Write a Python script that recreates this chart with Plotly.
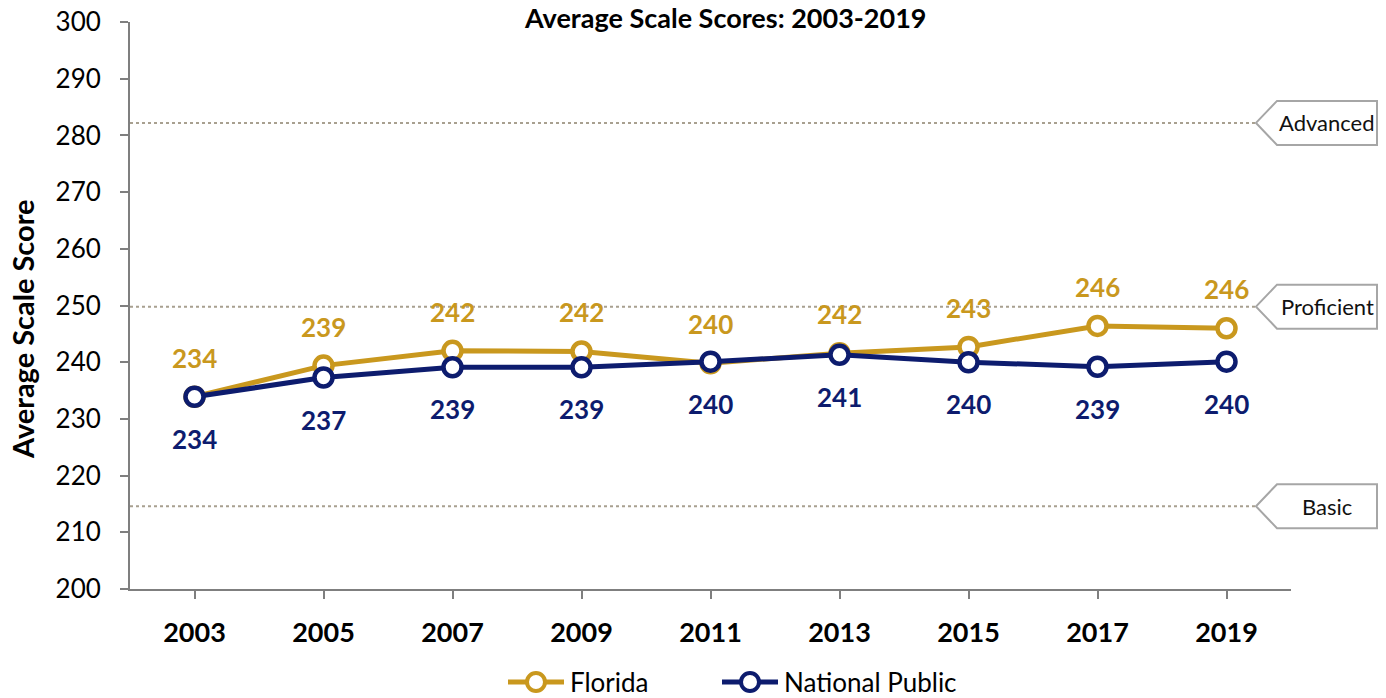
import plotly.graph_objects as go

years = ["2003", "2005", "2007", "2009", "2011", "2013", "2015", "2017", "2019"]
florida = [233.9, 239.4, 242.0, 241.9, 239.8, 241.6, 242.7, 246.4, 246.0]
florida_labels = ["234", "239", "242", "242", "240", "242", "243", "246", "246"]
national = [233.9, 237.3, 239.1, 239.1, 240.1, 241.3, 240.0, 239.2, 240.1]
national_labels = ["234", "237", "239", "239", "240", "241", "240", "239", "240"]
series_names = ["Florida", "National Public"]
levels = ["Advanced", "Proficient", "Basic"]
level_values = [282.2, 249.8, 214.6]
y_ticks = [200, 210, 220, 230, 240, 250, 260, 270, 280, 290, 300]

GOLD = "#C9981E"
NAVY = "#0D1C6E"
FONT = "Lato"

# plot area in pixels
FW, FH = 1386, 698
L, R, T, B = 130, 95, 22, 109
W = FW - L - R
H = FH - T - B


def px_x(p):
    return (p - L) / W


def px_y(p):
    return (FH - B - p) / H


fig = go.Figure()
fig.add_trace(go.Scatter(
    x=years, y=florida, name=series_names[0], mode="lines+markers",
    line=dict(color=GOLD, width=5),
    marker=dict(symbol="circle", size=18, color="white", line=dict(color=GOLD, width=4.5)),
))
fig.add_trace(go.Scatter(
    x=years, y=national, name=series_names[1], mode="lines+markers",
    line=dict(color=NAVY, width=5),
    marker=dict(symbol="circle", size=18, color="white", line=dict(color=NAVY, width=4.5)),
))

annotations = []
for i, (v, t) in enumerate(zip(florida, florida_labels)):
    annotations.append(dict(x=i, y=v, xref="x", yref="y", text=t, showarrow=False, yshift=39,
                            font=dict(family=FONT, size=26, color=GOLD, weight="bold")))
for i, (v, t) in enumerate(zip(national, national_labels)):
    annotations.append(dict(x=i, y=v, xref="x", yref="y", text=t, showarrow=False, yshift=-42,
                            font=dict(family=FONT, size=26, color=NAVY, weight="bold")))

shapes = []
tip_x = px_x(1256)
slant_x = px_x(1277)
right_x = px_x(1377)
for name, v in zip(levels, level_values):
    shapes.append(dict(type="line", xref="paper", yref="y", x0=0, x1=tip_x, y0=v, y1=v,
                       line=dict(color="#A8A090", width=2, dash="dot")))
    yc = (v - 200) / 100
    hh = 22 / H
    path = (f"M {tip_x},{yc} L {slant_x},{yc + hh} L {right_x},{yc + hh} "
            f"L {right_x},{yc - hh} L {slant_x},{yc - hh} Z")
    shapes.append(dict(type="path", xref="paper", yref="paper", path=path,
                       fillcolor="white", line=dict(color="#A6A6A6", width=2), layer="above"))
    annotations.append(dict(xref="paper", yref="paper", x=(slant_x + right_x) / 2, y=yc,
                            text=name, showarrow=False, xanchor="center", yanchor="middle",
                            font=dict(family=FONT, size=22, color="#111111")))

# manual legend (line + open circle + label)
legend_y = px_y(682)
for name, color, x_start in zip(series_names, [GOLD, NAVY], [508, 722]):
    shapes.append(dict(type="line", xref="paper", yref="paper",
                       x0=px_x(x_start), x1=px_x(x_start + 56), y0=legend_y, y1=legend_y,
                       line=dict(color=color, width=5)))
    cx, r = x_start + 28, 9
    shapes.append(dict(type="circle", xref="paper", yref="paper",
                       x0=px_x(cx - r), x1=px_x(cx + r), y0=legend_y - r / H, y1=legend_y + r / H,
                       fillcolor="white", line=dict(color=color, width=4)))
    annotations.append(dict(xref="paper", yref="paper", x=px_x(x_start + 60), y=legend_y,
                            text=name, showarrow=False, xanchor="left", yanchor="middle",
                            font=dict(family=FONT, size=26, color="black")))

annotations.append(dict(xref="paper", yref="paper", x=px_x(725), y=px_y(0),
                        text="Average Scale Scores: 2003-2019", showarrow=False,
                        xanchor="center", yanchor="top", borderpad=0,
                        font=dict(family=FONT, size=27, color="black", weight="bold")))
annotations.append(dict(xref="paper", yref="paper", x=px_x(22), y=px_y(329),
                        text="Average Scale Score", showarrow=False, textangle=-90,
                        xanchor="center", yanchor="middle",
                        font=dict(family=FONT, size=29, color="black", weight="bold")))

fig.update_layout(
    template="none",
    width=FW, height=FH, autosize=False,
    margin=dict(l=L, r=R, t=T, b=B, pad=0),
    paper_bgcolor="white", plot_bgcolor="white",
    font=dict(family=FONT, color="black"),
    showlegend=False,
    xaxis=dict(type="category", range=[-0.5, 8.5], showgrid=False, showline=True,
               automargin=False, zeroline=False,
               linecolor="#7F7F7F", linewidth=2, ticks="outside", ticklen=8,
               tickcolor="#7F7F7F", tickwidth=2, ticklabelstandoff=11,
               tickfont=dict(family=FONT, size=27, color="black", weight="bold")),
    yaxis=dict(range=[200, 300], tickvals=y_ticks, showgrid=False, showline=True,
               automargin=False, zeroline=False,
               linecolor="#7F7F7F", linewidth=2, ticks="outside", ticklen=8,
               tickcolor="#7F7F7F", tickwidth=2, ticklabelstandoff=14,
               tickfont=dict(family=FONT, size=26, color="black")),
    shapes=shapes,
    annotations=annotations,
)

fig.write_html("out.html", config={"displayModeBar": False, "responsive": False},
               post_script="document.body.style.margin='0';document.documentElement.style.margin='0';")
